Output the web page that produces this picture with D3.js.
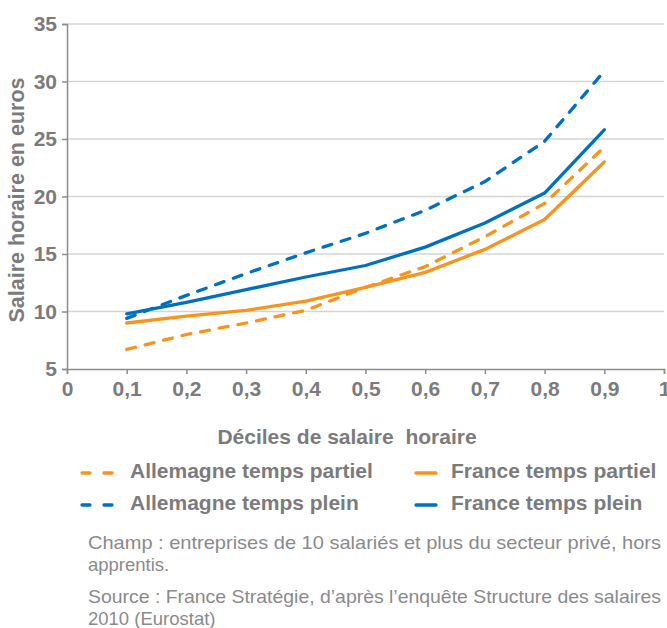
<!DOCTYPE html>
<html>
<head>
<meta charset="utf-8">
<script src="https://cdn.jsdelivr.net/npm/d3@7"></script>
<style>
  html, body { margin: 0; padding: 0; background: #fff; }
  svg { display: block; font-family: "Liberation Sans", Arial, sans-serif; }
</style>
</head>
<body>
<svg id="chart" width="667" height="628"></svg>
<script>
// Hourly wage by decile, France vs Germany, part-time vs full-time (2010)
const deciles = [0.1, 0.2, 0.3, 0.4, 0.5, 0.6, 0.7, 0.8, 0.9];
const allemagnePartiel = [6.7, 8.0, 9.0, 10.1, 12.1, 13.9, 16.5, 19.4, 24.3];
const francePartiel    = [9.0, 9.6, 10.1, 10.9, 12.1, 13.4, 15.4, 18.0, 23.0];
const allemagnePlein   = [9.4, 11.4, 13.3, 15.1, 16.8, 18.8, 21.3, 24.8, 30.9];
const francePlein      = [9.8, 10.8, 11.9, 13.0, 14.0, 15.6, 17.7, 20.3, 25.8];

const xTicks = [0, 0.1, 0.2, 0.3, 0.4, 0.5, 0.6, 0.7, 0.8, 0.9, 1];
const yTicks = [5, 10, 15, 20, 25, 30, 35];

const orange = "#f7941d";
const blue = "#0070c0";
const textGray = "#7b7b7d";

const series = [
  { name: "Allemagne temps partiel", values: allemagnePartiel, color: orange, dashed: true },
  { name: "France temps partiel",    values: francePartiel,    color: orange, dashed: false },
  { name: "Allemagne temps plein",   values: allemagnePlein,   color: blue,   dashed: true },
  { name: "France temps plein",      values: francePlein,      color: blue,   dashed: false }
];

const svg = d3.select("#chart");
const x = d3.scaleLinear().domain([0, 1]).range([67, 664]);
const y = d3.scaleLinear().domain([5, 35]).range([369, 24]);

// horizontal gridlines
svg.append("g")
  .selectAll("line")
  .data(yTicks.filter(d => d > 5))
  .join("line")
  .attr("x1", x(0)).attr("x2", x(1))
  .attr("y1", d => y(d)).attr("y2", d => y(d))
  .attr("stroke", "#d4d4d4").attr("stroke-width", 1.3);

// y axis
const yAxis = svg.append("g")
  .attr("transform", `translate(${x(0)},0)`)
  .call(d3.axisLeft(y).tickValues(yTicks).tickSize(5).tickPadding(5).tickFormat(d3.format("d")));
yAxis.select(".domain").attr("stroke", "#8c8c8c").attr("stroke-width", 1.5);
yAxis.selectAll(".tick line").attr("stroke", "#8c8c8c").attr("stroke-width", 1.5);
yAxis.selectAll(".tick text")
  .attr("fill", textGray).attr("font-size", 21).attr("font-weight", "bold")
  .attr("font-family", "Liberation Sans, Arial, sans-serif");

// x axis
const fmtComma = d => d === 0 ? "0" : d === 1 ? "1" : d3.format(".1f")(d).replace(".", ",");
const xAxis = svg.append("g")
  .attr("transform", `translate(0,${y(5)})`)
  .call(d3.axisBottom(x).tickValues(xTicks).tickSize(5).tickPadding(7).tickFormat(fmtComma));
xAxis.select(".domain").attr("stroke", "#8c8c8c").attr("stroke-width", 1.5);
xAxis.selectAll(".tick line").attr("stroke", "#8c8c8c").attr("stroke-width", 1.5);
xAxis.selectAll(".tick text")
  .attr("fill", textGray).attr("font-size", 21).attr("font-weight", "bold")
  .attr("font-family", "Liberation Sans, Arial, sans-serif");

// axis titles
svg.append("text")
  .attr("transform", `translate(24,200) rotate(-90)`)
  .attr("text-anchor", "middle")
  .attr("fill", textGray).attr("font-size", 21.5).attr("font-weight", "bold")
  .text("Salaire horaire en euros");

svg.append("text")
  .attr("x", 347).attr("y", 444)
  .attr("text-anchor", "middle")
  .attr("fill", textGray).attr("font-size", 21).attr("font-weight", "bold")
  .attr("xml:space", "preserve")
  .text("Déciles de salaire\u00a0 horaire");

// series lines
const line = d3.line()
  .x((d, i) => x(deciles[i]))
  .y(d => y(d));

svg.append("g")
  .selectAll("path")
  .data(series)
  .join("path")
  .attr("d", d => line(d.values))
  .attr("fill", "none")
  .attr("stroke", d => d.color)
  .attr("stroke-width", 3.3)
  .attr("stroke-linejoin", "round")
  .attr("stroke-linecap", "round")
  .attr("stroke-dasharray", d => d.dashed ? "9,10" : null);

// legend, two columns
const legendPos = [
  { sx: 82, tx: 130, y: 473 },
  { sx: 414, tx: 451, y: 473 },
  { sx: 82, tx: 130, y: 505 },
  { sx: 414, tx: 451, y: 505 }
];
const legend = svg.append("g")
  .selectAll("g")
  .data(series)
  .join("g");
legend.append("line")
  .attr("x1", (d, i) => d.dashed ? legendPos[i].sx : legendPos[i].sx + 2)
  .attr("x2", (d, i) => d.dashed ? legendPos[i].sx + 30 : legendPos[i].sx + 22)
  .attr("y1", (d, i) => legendPos[i].y)
  .attr("y2", (d, i) => legendPos[i].y)
  .attr("stroke", d => d.color)
  .attr("stroke-width", 3.3)
  .attr("stroke-linecap", "round")
  .attr("stroke-dasharray", d => d.dashed ? "8,14" : null);
legend.append("text")
  .attr("x", (d, i) => legendPos[i].tx)
  .attr("y", (d, i) => legendPos[i].y + 5)
  .attr("fill", textGray).attr("font-size", 21).attr("font-weight", "bold")
  .text(d => d.name);

// notes
const notes = [
  { text: "Champ : entreprises de 10 salariés et plus du secteur privé, hors", y: 549, justify: true },
  { text: "apprentis.", y: 571, justify: false },
  { text: "Source : France Stratégie, d’après l’enquête Structure des salaires", y: 603, justify: true },
  { text: "2010 (Eurostat)", y: 625, justify: false }
];
svg.append("g")
  .selectAll("text")
  .data(notes)
  .join("text")
  .attr("x", 88).attr("y", d => d.y)
  .attr("fill", "#8a8a8c").attr("font-size", 18.5)
  .attr("textLength", d => d.justify ? 573 : null)
  .attr("lengthAdjust", "spacingAndGlyphs")
  .text(d => d.text);
</script>
</body>
</html>
